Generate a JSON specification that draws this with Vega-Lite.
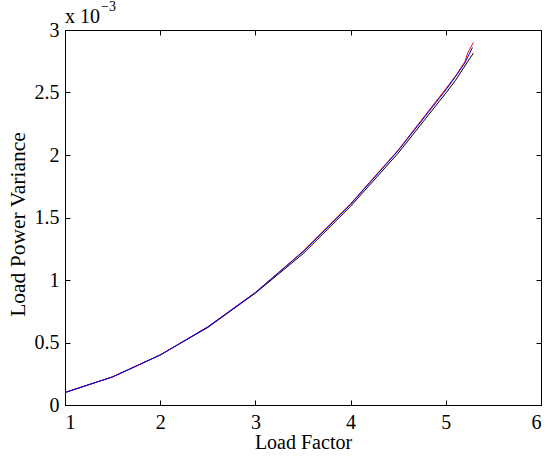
{
  "$schema": "https://vega.github.io/schema/vega-lite/v6.json",
  "autosize": {"type": "none"},
  "width": 476,
  "height": 375,
  "padding": {"left": 65, "top": 30, "right": 7, "bottom": 52},
  "background": "white",
  "config": {
    "view": {"stroke": "black", "strokeWidth": 1},
    "font": "Liberation Serif",
    "axis": {
      "domainColor": "black", "domainWidth": 1,
      "tickColor": "black", "tickWidth": 1, "tickSize": -5,
      "grid": false,
      "labelFont": "Liberation Serif", "labelFontSize": 20, "labelColor": "black",
      "titleFont": "Liberation Serif", "titleFontSize": 20, "titleFontWeight": "normal", "titleColor": "black"
    }
  },
  "datasets": {
    "curves": [
      {"s": "black", "lf": 1.0, "v": 0.100},
      {"s": "black", "lf": 1.5, "v": 0.225},
      {"s": "black", "lf": 2.0, "v": 0.400},
      {"s": "black", "lf": 2.5, "v": 0.620},
      {"s": "black", "lf": 3.0, "v": 0.895},
      {"s": "black", "lf": 3.5, "v": 1.210},
      {"s": "black", "lf": 4.0, "v": 1.590},
      {"s": "black", "lf": 4.5, "v": 2.015},
      {"s": "black", "lf": 5.0, "v": 2.495},
      {"s": "black", "lf": 5.1, "v": 2.595},
      {"s": "black", "lf": 5.25, "v": 2.770},
      {"s": "black", "lf": 5.29, "v": 2.815},
      {"s": "red", "lf": 1.0, "v": 0.100},
      {"s": "red", "lf": 1.5, "v": 0.225},
      {"s": "red", "lf": 2.0, "v": 0.400},
      {"s": "red", "lf": 2.5, "v": 0.625},
      {"s": "red", "lf": 3.0, "v": 0.900},
      {"s": "red", "lf": 3.5, "v": 1.230},
      {"s": "red", "lf": 4.0, "v": 1.610},
      {"s": "red", "lf": 4.5, "v": 2.040},
      {"s": "red", "lf": 5.0, "v": 2.530},
      {"s": "red", "lf": 5.1, "v": 2.630},
      {"s": "red", "lf": 5.2, "v": 2.745},
      {"s": "red", "lf": 5.23, "v": 2.815},
      {"s": "red", "lf": 5.29, "v": 2.900},
      {"s": "blue", "lf": 1.0, "v": 0.100},
      {"s": "blue", "lf": 1.5, "v": 0.225},
      {"s": "blue", "lf": 2.0, "v": 0.400},
      {"s": "blue", "lf": 2.5, "v": 0.625},
      {"s": "blue", "lf": 3.0, "v": 0.900},
      {"s": "blue", "lf": 3.5, "v": 1.225},
      {"s": "blue", "lf": 4.0, "v": 1.605},
      {"s": "blue", "lf": 4.5, "v": 2.035},
      {"s": "blue", "lf": 5.0, "v": 2.520},
      {"s": "blue", "lf": 5.1, "v": 2.625},
      {"s": "blue", "lf": 5.2, "v": 2.735},
      {"s": "blue", "lf": 5.28, "v": 2.860}
    ],
    "exponent": [
      {"t": "x 10", "lf": 1, "v": 3},
      {"t": "\u22123", "lf": 1, "v": 3}
    ]
  },
  "layer": [
    {
      "data": {"name": "curves"},
      "mark": {"type": "line", "strokeWidth": 1, "clip": true},
      "encoding": {
        "x": {"field": "lf", "type": "quantitative", "scale": {"domain": [1, 6], "nice": false, "zero": false},
              "axis": {"orient": "bottom", "values": [1, 2, 3, 4, 5, 6], "format": "~g", "labelPadding": 12,
                       "title": "Load Factor", "titleY": 43, "titleBaseline": "alphabetic"}},
        "y": {"field": "v", "type": "quantitative", "scale": {"domain": [0, 3], "nice": false, "zero": false},
              "axis": {"orient": "left", "values": [0, 0.5, 1, 1.5, 2, 2.5, 3], "format": "~g", "labelPadding": 11,
                       "title": "Load Power Variance", "titleFontSize": 21.5, "titleX": -47, "titleY": 194, "titleAngle": 270,
                       "titleAlign": "center", "titleBaseline": "middle"}},
        "color": {"field": "s", "type": "nominal", "scale": {"domain": ["black", "red", "blue"], "range": ["#000000", "#ff0000", "#0000ff"]}, "legend": null}
      }
    },
    {
      "data": {"name": "curves"},
      "mark": {"type": "line", "opacity": 0},
      "encoding": {
        "x": {"field": "lf", "type": "quantitative", "axis": {"orient": "top", "values": [1, 2, 3, 4, 5, 6], "labels": false, "title": null}},
        "y": {"field": "v", "type": "quantitative", "axis": {"orient": "right", "values": [0, 0.5, 1, 1.5, 2, 2.5, 3], "labels": false, "title": null}}
      }
    },
    {
      "data": {"name": "exponent"},
      "transform": [{"filter": "datum.t == 'x 10'"}],
      "mark": {"type": "text", "align": "left", "baseline": "alphabetic", "fontSize": 20, "font": "Liberation Serif", "color": "black", "dx": 0, "dy": -7},
      "encoding": {
        "x": {"field": "lf", "type": "quantitative", "axis": null},
        "y": {"field": "v", "type": "quantitative", "axis": null},
        "text": {"field": "t"}
      }
    },
    {
      "data": {"name": "exponent"},
      "transform": [{"filter": "datum.t != 'x 10'"}],
      "mark": {"type": "text", "align": "left", "baseline": "alphabetic", "fontSize": 14, "font": "Liberation Serif", "color": "black", "dx": 36, "dy": -19},
      "encoding": {
        "x": {"field": "lf", "type": "quantitative", "axis": null},
        "y": {"field": "v", "type": "quantitative", "axis": null},
        "text": {"field": "t"}
      }
    }
  ],
  "resolve": {"axis": {"x": "independent", "y": "independent"}}
}
